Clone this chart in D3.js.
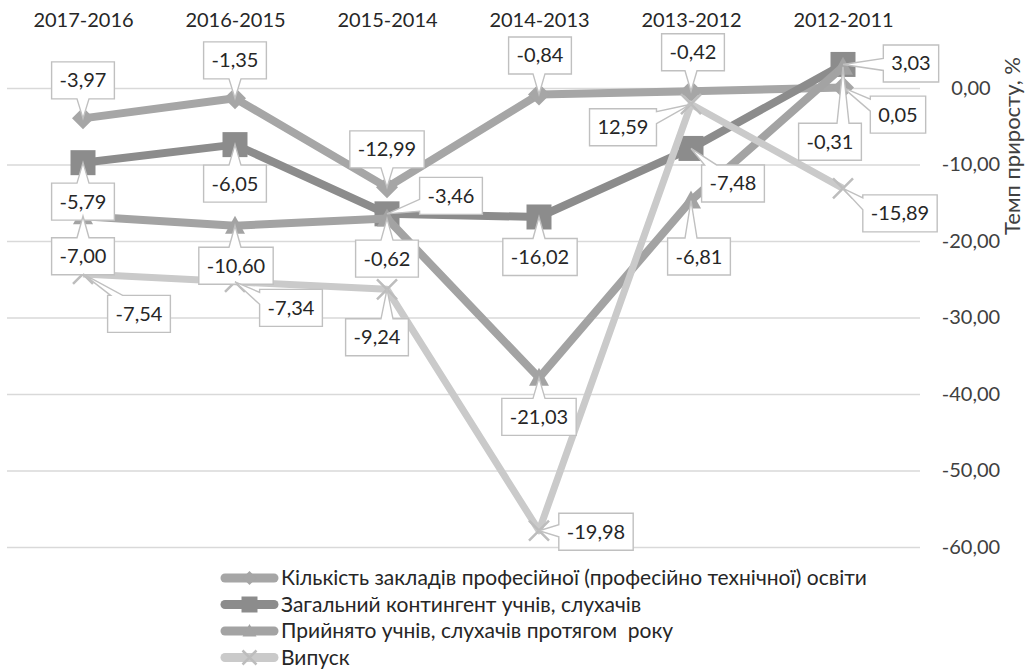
<!DOCTYPE html>
<html><head><meta charset="utf-8">
<script src="https://cdn.jsdelivr.net/npm/d3@7"></script>
<style>
body{margin:0;background:#fff}
svg{display:block}
text{font-family:Lato,"Open Sans",sans-serif}
</style>
</head><body>
<svg id="c" width="1028" height="669"></svg>
<script>
// ---- data ----
const categories = ["2017-2016","2016-2015","2015-2014","2014-2013","2013-2012","2012-2011"];
const seriesNames = [
  "Кількість закладів професійної (професійно технічної) освіти",
  "Загальний контингент учнів, слухачів",
  "Прийнято учнів, слухачів протягом  року",
  "Випуск"
];
const zakladyValues     = [-3.97, -1.35, -12.99, -0.84, -0.42,  0.05];
const kontyngentValues  = [-5.79, -6.05,  -3.46,-16.02, -7.48,  3.03];
const pryiniatoValues   = [-7.00,-10.60,  -0.62,-21.03, -6.81, -0.31];
const vypuskValues      = [-7.54, -7.34,  -9.24,-19.98, 12.59,-15.89];
const yTicks = [0,-10,-20,-30,-40,-50,-60];
const axisTitle = "Темп приросту, %";

// ---- layout / style (not data) ----
const colors = ["#a6a6a6","#8c8c8c","#a3a3a3","#cacaca"];
const markers = ["diamond","square","triangle","x"];
// label box centre offsets from each point, px
const labelOffsets = [
  [[0,-38],[0,-38],[0,-38],[1,-39],[2,-39],[55,27]],
  [[0,39],[0,39],[64,-18],[1,40],[42,35],[68,-1]],
  [[0,40],[1,40],[0,40],[0,39],[8,56],[-13,75]],
  [[56,40],[56,26],[-10,48],[57,1],[-68,23],[57,25]]
];

const W=1028,H=669;
const svg=d3.select("#c");
svg.append("rect").attr("width",W).attr("height",H).attr("fill","#fff");

const loc=d3.formatLocale({decimal:",",thousands:" ",grouping:[3],currency:["",""],minus:"-"});
const fmt=loc.format(".2f");

const x=d3.scalePoint().domain(categories).range([83,843]);
const y=d3.scaleLinear().domain([-60,0]).range([547,88]);

const keys=["s0","s1","s2","s3"];
const valueArrays=[zakladyValues,kontyngentValues,pryiniatoValues,vypuskValues];
const rows=categories.map((c,i)=>{const r={cat:c};keys.forEach((k,j)=>r[k]=valueArrays[j][i]);return r;});
const stacked=d3.stack().keys(keys)(rows);

// grid
const grid=svg.append("g").attr("transform","translate(920,0)")
  .call(d3.axisLeft(y).tickValues(yTicks).tickSize(913).tickFormat(""));
grid.select(".domain").remove();
grid.selectAll("line").attr("stroke","#d9d9d9").attr("stroke-width",1.3);

// right axis labels
const ya=svg.append("g").attr("transform","translate(920,0)")
  .call(d3.axisRight(y).tickValues(yTicks).tickSize(0).tickFormat(fmt));
ya.select(".domain").remove();
ya.selectAll("text").attr("x",51).attr("text-anchor","middle")
  .style("font-family","Lato").attr("font-size",20).attr("fill","#404040");

svg.append("text").attr("transform","translate(1012,146) rotate(-90)")
  .attr("text-anchor","middle").attr("dy","0.35em").attr("font-size",22).attr("fill","#404040").text(axisTitle);

// top categories
const xa=svg.append("g").attr("transform","translate(0,27)")
  .call(d3.axisTop(x).tickSize(0).tickPadding(0));
xa.select(".domain").remove();
xa.selectAll("text").style("font-family","Lato").attr("font-size",20).attr("fill","#262626");

function markerPath(type,s){
  const h=s/2;
  if(type==="square") return `M${-h},${-h}H${h}V${h}H${-h}Z`;
  if(type==="diamond") return `M0,${-h}L${h},0L0,${h}L${-h},0Z`;
  if(type==="triangle") return `M0,${-h}L${h},${h*0.8}L${-h},${h*0.8}Z`;
  return `M${-h},${-h}L${h},${h}M${h},${-h}L${-h},${h}`;
}
const markerSize=[22,25,20,20];

function drawMarker(g,type,cx,cy,s,color){
  const p=g.append("path").attr("transform",`translate(${cx},${cy})`).attr("d",markerPath(type,s));
  if(type==="x") p.attr("fill","none").attr("stroke",color).attr("stroke-width",2.5);
  else p.attr("fill",color);
}

const line=d3.line().x(d=>x(d.data.cat)).y(d=>y(d[1]));
const plot=svg.append("g");
stacked.forEach((s,i)=>{
  plot.append("path").datum(s).attr("d",line).attr("fill","none")
    .attr("stroke",colors[i]).attr("stroke-width",i===3?7:8)
    .attr("stroke-linejoin","round");
  s.forEach(d=>drawMarker(plot,markers[i],x(d.data.cat),y(d[1]),markerSize[i],i===3?"#bdbdbd":colors[i]));
});

// callouts
const lab=svg.append("g");
function callout(px,py,cx,cy,txt){
  const g=lab.append("g");
  const path=g.append("path");
  const t=g.append("text").attr("x",cx).attr("y",cy).attr("dy","0.35em")
    .attr("text-anchor","middle").attr("font-size",20).attr("fill","#262626").text(txt);
  const w=t.node().getComputedTextLength()+16, h=37;
  const x0=cx-w/2,x1=cx+w/2,y0=cy-h/2,y1=cy+h/2;
  const dx=px-cx, dy=py-cy;
  const bw=12, cl=(v,a,b)=>Math.max(a,Math.min(b,v));
  let d;
  if(Math.abs(dx)<=w/2 && Math.abs(dy)<=h/2){
    d=`M${x0},${y0}H${x1}V${y1}H${x0}Z`;
  } else if(Math.abs(dy)/(h/2) >= Math.abs(dx)/(w/2)){
    const b=cl(px,x0+bw/2+3,x1-bw/2-3);
    if(dy<0) d=`M${x0},${y0}H${b-bw/2}L${px},${py}L${b+bw/2},${y0}H${x1}V${y1}H${x0}Z`;
    else d=`M${x0},${y0}H${x1}V${y1}H${b+bw/2}L${px},${py}L${b-bw/2},${y1}H${x0}Z`;
  } else {
    const b=cl(py,y0+bw/2+3,y1-bw/2-3);
    if(dx>0) d=`M${x0},${y0}H${x1}V${b-bw/2}L${px},${py}L${x1},${b+bw/2}V${y1}H${x0}Z`;
    else d=`M${x0},${y0}H${x1}V${y1}H${x0}V${b+bw/2}L${px},${py}L${x0},${b-bw/2}Z`;
  }
  path.attr("d",d).attr("fill","#fff").attr("stroke","#c0c0c0").attr("stroke-width",1.4);
}
stacked.forEach((s,i)=>{
  s.forEach((d,j)=>{
    const px=x(d.data.cat), py=y(d[1]);
    const o=labelOffsets[i][j];
    callout(px,py,px+o[0],py+o[1],fmt(valueArrays[i][j]));
  });
});

// legend
const leg=svg.append("g");
seriesNames.forEach((n,i)=>{
  const ly=578+i*26.5;
  leg.append("line").attr("x1",225).attr("x2",274).attr("y1",ly).attr("y2",ly)
    .attr("stroke",colors[i]).attr("stroke-width",9).attr("stroke-linecap","round");
  drawMarker(leg,markers[i],249.5,ly,i===1?16:14,i===3?"#bdbdbd":colors[i]);
  leg.append("text").attr("x",281).attr("y",ly).attr("dy","0.35em").attr("font-size",21)
    .attr("fill","#262626").style("white-space","pre").text(n);
});
</script>
</body></html>
